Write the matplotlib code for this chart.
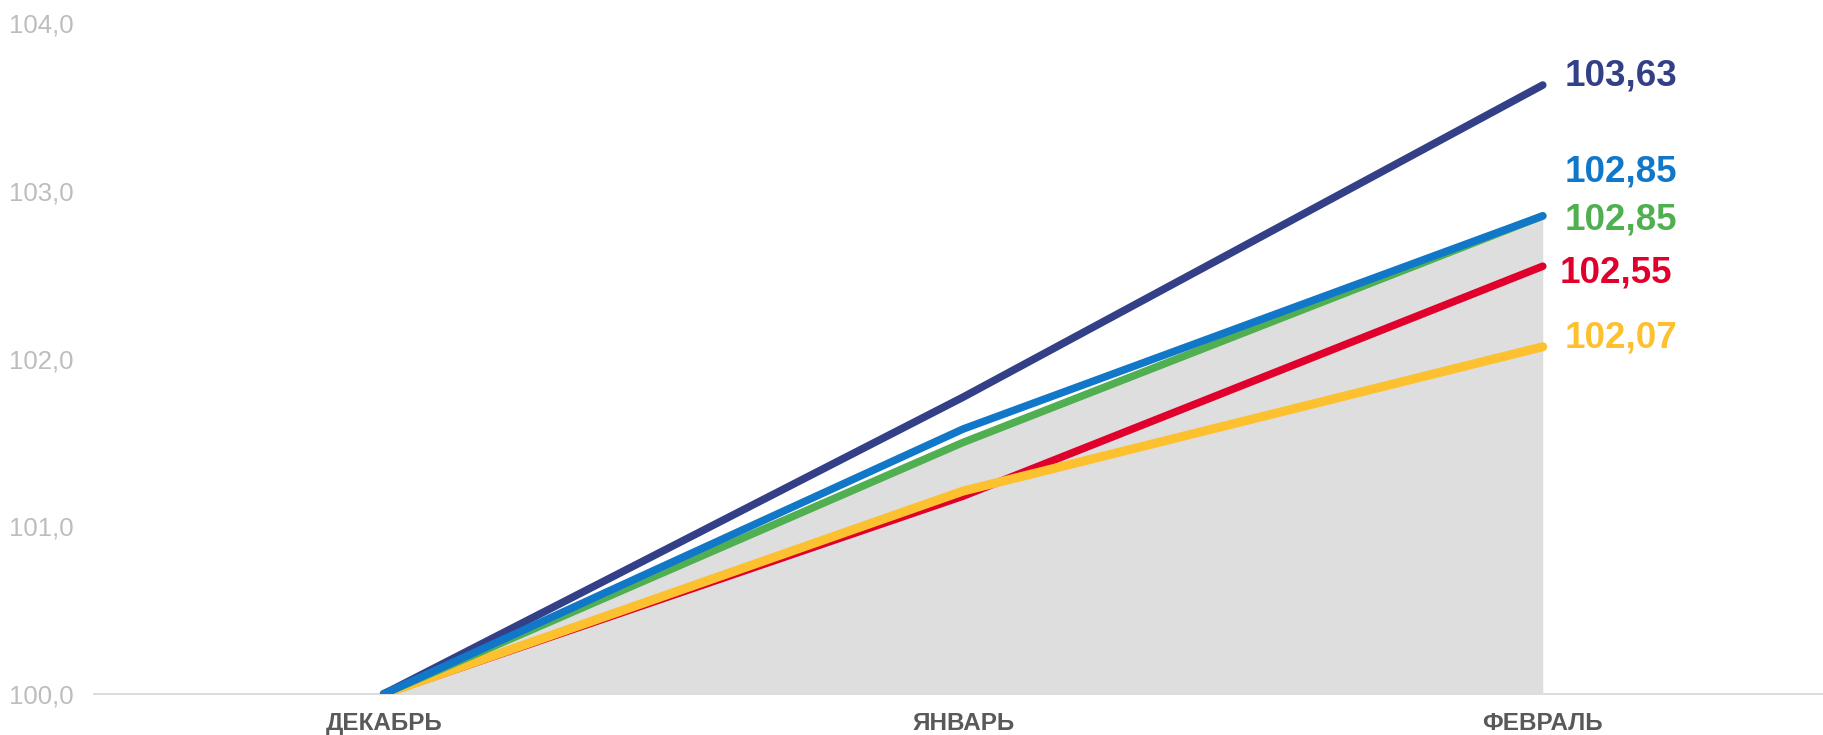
import matplotlib
matplotlib.use('Agg')
import matplotlib.pyplot as plt
import matplotlib.ticker as ticker

plt.rcParams['font.family'] = ['Liberation Sans', 'DejaVu Sans']

# data
months = ['ДЕКАБРЬ', 'ЯНВАРЬ', 'ФЕВРАЛЬ']
navy_vals = [100.0, 101.77, 103.63]
blue_vals = [100.0, 101.58, 102.85]
green_vals = [100.0, 101.50, 102.85]
red_vals = [100.0, 101.18, 102.55]
yellow_vals = [100.0, 101.21, 102.07]
area_vals = green_vals
end_labels = ['103,63', '102,85', '102,85', '102,55', '102,07']

x = list(range(len(months)))

f = plt.figure(figsize=(18.23, 7.35), dpi=100)
W, H = 1823, 735
ax = f.add_axes([94 / W, (H - 694) / H, (W - 94) / W, (694 - 23) / H])

ax.fill_between(x, 100, area_vals, color='#DEDEDE', lw=0, zorder=1)

series = [
    (red_vals, '#E1002B', 5.5),
    (yellow_vals, '#FDC02F', 6.5),
    (green_vals, '#50AF50', 5.5),
    (navy_vals, '#333F87', 5.5),
    (blue_vals, '#1177C8', 5.5),
]
for i, (vals, col, lw) in enumerate(series):
    ax.plot(x, vals, color=col, lw=lw, solid_capstyle='round',
            solid_joinstyle='round', zorder=2 + i)

# end labels (offsets in pixels)
labels = [
    (navy_vals, '#333F87', end_labels[0], 22, 9),
    (blue_vals, '#1177C8', end_labels[1], 22, 44),
    (green_vals, '#50AF50', end_labels[2], 22, -4),
    (red_vals, '#E1002B', end_labels[3], 17, -7),
    (yellow_vals, '#FDC02F', end_labels[4], 22, 9),
]
for vals, col, txt, dx, dy in labels:
    ax.annotate(txt, xy=(x[-1], vals[-1]), xytext=(dx, dy),
                textcoords='offset pixels', ha='left', va='center',
                fontsize=26.5, fontweight='bold', color=col,
                annotation_clip=False)

ax.set_xlim(-0.5, (W - 94) / 579.5 - 0.5)
ax.set_ylim(100, 104)
ax.set_yticks([100, 101, 102, 103, 104])
ax.yaxis.set_major_formatter(ticker.FuncFormatter(lambda v, p: f"{v:.1f}".replace('.', ',')))
ax.set_xticks(x)
ax.set_xticklabels(months, fontweight='bold', fontsize=17.5, color='#595959')

ax.tick_params(axis='y', length=0, pad=15, labelsize=18.5, labelcolor='#BDBDBD')
ax.tick_params(axis='x', length=0, pad=13)

for s in ['top', 'right', 'left']:
    ax.spines[s].set_visible(False)
ax.spines['bottom'].set_color('#D9D9D9')
ax.spines['bottom'].set_linewidth(1.3)
ax.spines['bottom'].set_zorder(0)

f.savefig('out.png', dpi=100)
